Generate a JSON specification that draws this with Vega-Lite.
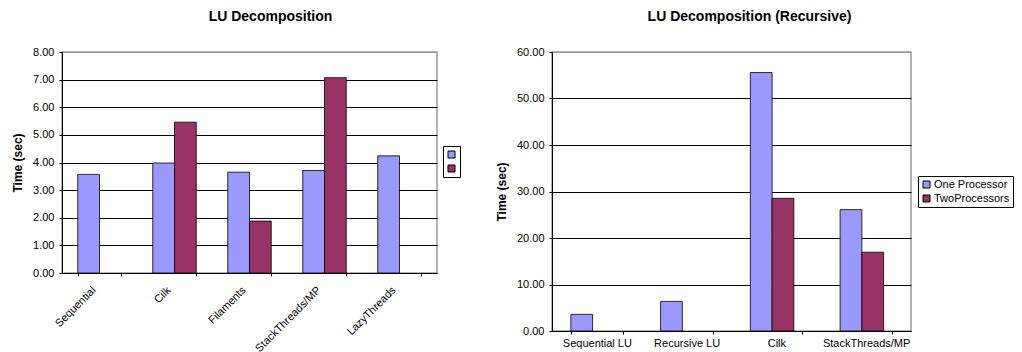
{
  "$schema": "https://vega.github.io/schema/vega-lite/v6.json",
  "background": "white",
  "padding": {"left": 10, "top": 9, "right": 0, "bottom": 0},
  "autosize": {"type": "pad"},
  "bounds": "flush",
  "spacing": 115,
  "config": {
    "font": "Liberation Sans",
    "view": {"stroke": "#999999", "strokeWidth": 1.5},
    "title": {"fontSize": 14, "fontWeight": "bold", "color": "#000000", "offset": 22, "anchor": "middle"},
    "axis": {
      "labelFontSize": 11, "labelColor": "#000000",
      "titleFontSize": 12, "titleFontWeight": "bold", "titleColor": "#000000",
      "domainColor": "#000000", "tickColor": "#000000", "tickSize": 3, "labelPadding": 5,
      "gridOpacity": 1, "gridWidth": 1
    },
    "axisX": {"grid": false},
    "axisY": {"grid": true, "titlePadding": 8},
    "legend": {
      "labelFontSize": 11, "labelColor": "#000000", "symbolType": "square", "symbolSize": 49,
      "symbolStrokeColor": "#000000", "symbolStrokeWidth": 1, "strokeColor": "#000000",
      "fillColor": "#ffffff", "padding": 3, "rowPadding": 2, "labelOffset": 2
    }
  },
  "datasets": {
    "lu": [
      {"impl": "Sequential", "series": "One Processor", "time": 3.57},
      {"impl": "Cilk", "series": "One Processor", "time": 3.98},
      {"impl": "Cilk", "series": "TwoProcessors", "time": 5.46},
      {"impl": "Filaments", "series": "One Processor", "time": 3.65},
      {"impl": "Filaments", "series": "TwoProcessors", "time": 1.88},
      {"impl": "StackThreads/MP", "series": "One Processor", "time": 3.71},
      {"impl": "StackThreads/MP", "series": "TwoProcessors", "time": 7.07},
      {"impl": "LazyThreads", "series": "One Processor", "time": 4.24}
    ],
    "luRecursive": [
      {"impl": "Sequential LU", "series": "One Processor", "time": 3.58},
      {"impl": "Recursive LU", "series": "One Processor", "time": 6.37},
      {"impl": "Cilk", "series": "One Processor", "time": 55.58},
      {"impl": "Cilk", "series": "TwoProcessors", "time": 28.54},
      {"impl": "StackThreads/MP", "series": "One Processor", "time": 26.1},
      {"impl": "StackThreads/MP", "series": "TwoProcessors", "time": 16.95}
    ]
  },
  "hconcat": [
    {
      "width": 375,
      "height": 221,
      "title": {"text": "LU Decomposition", "dx": 21},
      "data": {"name": "lu"},
      "mark": {"type": "bar", "stroke": "#000000", "strokeWidth": 0.8},
      "encoding": {
        "x": {
          "field": "impl", "type": "nominal",
          "sort": ["Sequential", "Cilk", "Filaments", "StackThreads/MP", "LazyThreads"],
          "scale": {"paddingInner": 0.42, "paddingOuter": 0.21},
          "axis": {"title": null, "labelAngle": -45, "tickBand": "extent", "labelOffset": -10, "labelPadding": 8}
        },
        "xOffset": {"field": "series", "type": "nominal", "sort": ["One Processor", "TwoProcessors"]},
        "y": {
          "field": "time", "type": "quantitative",
          "scale": {"domain": [0, 8], "nice": false},
          "axis": {
            "title": "Time (sec)", "values": [0, 1, 2, 3, 4, 5, 6, 7, 8], "format": ".2f",
            "gridColor": {"condition": {"test": "datum.value >= 8", "value": "#999999"}, "value": "#000000"}
          }
        },
        "color": {
          "field": "series", "type": "nominal",
          "scale": {"domain": ["One Processor", "TwoProcessors"], "range": ["#9999FF", "#993366"]},
          "legend": {"orient": "none", "legendX": 381, "legendY": 94, "title": null, "labelExpr": "''", "labelOffset": 0}
        }
      }
    },
    {
      "width": 359,
      "height": 279,
      "title": {"text": "LU Decomposition (Recursive)", "dx": 18},
      "data": {"name": "luRecursive"},
      "mark": {"type": "bar", "stroke": "#000000", "strokeWidth": 0.8},
      "encoding": {
        "x": {
          "field": "impl", "type": "nominal",
          "sort": ["Sequential LU", "Recursive LU", "Cilk", "StackThreads/MP"],
          "scale": {"paddingInner": 0.42, "paddingOuter": 0.21},
          "axis": {"title": null, "labelAngle": 0, "tickBand": "extent", "labelPadding": 3}
        },
        "xOffset": {"field": "series", "type": "nominal", "sort": ["One Processor", "TwoProcessors"]},
        "y": {
          "field": "time", "type": "quantitative",
          "scale": {"domain": [0, 60], "nice": false},
          "axis": {
            "title": "Time (sec)", "values": [0, 10, 20, 30, 40, 50, 60], "format": ".2f",
            "gridColor": {"condition": {"test": "datum.value >= 60", "value": "#999999"}, "value": "#000000"}
          }
        },
        "color": {
          "field": "series", "type": "nominal",
          "scale": {"domain": ["One Processor", "TwoProcessors"], "range": ["#9999FF", "#993366"]},
          "legend": {"orient": "none", "legendX": 366, "legendY": 124, "title": null}
        }
      }
    }
  ],
  "resolve": {"scale": {"color": "independent"}, "legend": {"color": "independent"}}
}
